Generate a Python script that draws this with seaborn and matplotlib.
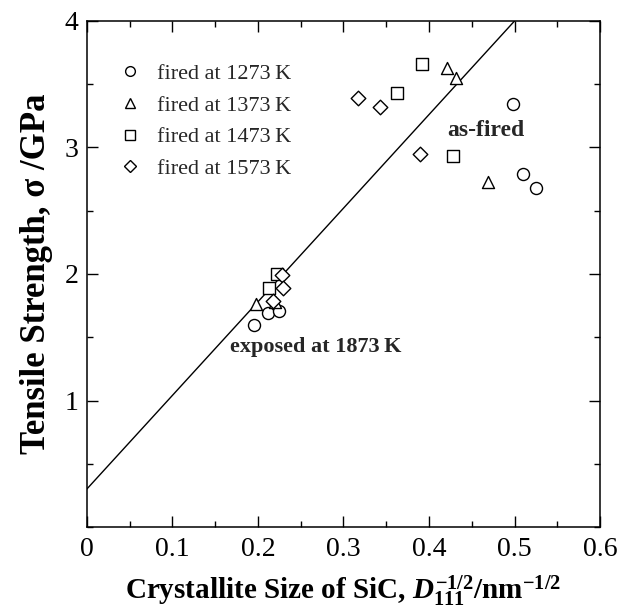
import numpy as np
import pandas as pd
import matplotlib
matplotlib.use("Agg")
import matplotlib.pyplot as plt
from matplotlib.lines import Line2D
from matplotlib.ticker import MultipleLocator
import seaborn as sns

# Crystallite size D111^-1/2 (nm^-1/2) and tensile strength (GPa) per firing temperature
x_1273 = [0.498, 0.510, 0.525, 0.195, 0.212, 0.225]
y_1273 = [3.34, 2.79, 2.68, 1.60, 1.69, 1.71]
x_1373 = [0.421, 0.432, 0.469, 0.198, 0.220]
y_1373 = [3.63, 3.55, 2.73, 1.76, 1.78]
x_1473 = [0.392, 0.363, 0.428, 0.213, 0.222]
y_1473 = [3.66, 3.43, 2.93, 1.89, 2.00]
x_1573 = [0.317, 0.343, 0.390, 0.228, 0.229, 0.218]
y_1573 = [3.39, 3.32, 2.95, 1.99, 1.89, 1.79]
labels = ["fired at 1273\u2009K", "fired at 1373\u2009K",
          "fired at 1473\u2009K", "fired at 1573\u2009K"]
marker_shapes = ["o", "^", "s", "D"]

# Hall-Petch type linear relation
fit_intercept = 0.30
fit_slope = 7.40

sns.set_theme(style="ticks")
plt.rcParams["font.family"] = ["Liberation Serif", "DejaVu Serif"]
plt.rcParams["mathtext.fontset"] = "custom"
plt.rcParams["mathtext.rm"] = "Liberation Serif:bold"
plt.rcParams["mathtext.it"] = "Liberation Serif:italic:bold"
plt.rcParams["mathtext.bf"] = "Liberation Serif:bold"

frames = []
for xs, ys, lab in zip([x_1273, x_1373, x_1473, x_1573],
                       [y_1273, y_1373, y_1473, y_1573], labels):
    frames.append(pd.DataFrame({"x": xs, "y": ys, "group": lab}))
df = pd.concat(frames, ignore_index=True)

fig = plt.figure(figsize=(6.2, 6.15), dpi=100)
ax = fig.add_axes([0.140, 0.143, 0.828, 0.823])

xs_line = np.array([0.0, 0.6])
ax.plot(xs_line, fit_intercept + fit_slope * xs_line, color="black", lw=1.0, zorder=1)

sizes = {"o": 75, "^": 75, "s": 65, "D": 55}
for lab, m in zip(labels, marker_shapes):
    sub = df[df["group"] == lab]
    sns.scatterplot(data=sub, x="x", y="y", marker=m, s=sizes[m],
                    facecolor="white", edgecolor="black", linewidth=1.0,
                    ax=ax, legend=False, zorder=3)

ax.set_xlim(0, 0.6)
ax.set_ylim(0, 4)
ax.set_xticks([0, 0.1, 0.2, 0.3, 0.4, 0.5, 0.6])
ax.set_xticklabels(["0", "0.1", "0.2", "0.3", "0.4", "0.5", "0.6"])
ax.set_yticks([1, 2, 3, 4])
ax.xaxis.set_minor_locator(MultipleLocator(0.05))
ax.yaxis.set_minor_locator(MultipleLocator(0.5))
ax.tick_params(which="both", direction="in", top=True, right=True,
               width=1.0, color="black", labelsize=20, labelcolor="black")
ax.tick_params(which="major", length=8)
ax.tick_params(axis="x", which="major", pad=7)
ax.tick_params(axis="y", which="major", pad=6)
ax.tick_params(which="minor", length=4)
for sp in ax.spines.values():
    sp.set_linewidth(1.1)
    sp.set_color("black")

ax.set_xlabel("Crystallite Size of SiC, $\\mathit{D}_{111}^{-1/2}$/nm$^{-1/2}$",
              fontsize=21, fontweight="bold", labelpad=8, color="black")
ax.set_ylabel("Tensile Strength, \u03c3 /GPa", fontsize=25,
              fontweight="bold", labelpad=8, color="black")

ax.text(0.467, 3.13, "as-fired", fontsize=17, fontweight="bold",
        ha="center", va="center")
ax.text(0.268, 1.42, "exposed at 1873\u2009K", fontsize=16, fontweight="bold",
        ha="center", va="center")

handles = [Line2D([], [], marker=m, ls="", mfc="white", mec="black",
                  mew=1.0, ms=7 if m != "D" else 6.5) for m in marker_shapes]
ax.legend(handles, labels, loc="upper left", bbox_to_anchor=(0.062, 0.916),
          frameon=False, fontsize=16, handlelength=1.0, handletextpad=0.72,
          borderpad=0, borderaxespad=0, labelspacing=0.5)

fig.savefig("out.png", dpi=100)
